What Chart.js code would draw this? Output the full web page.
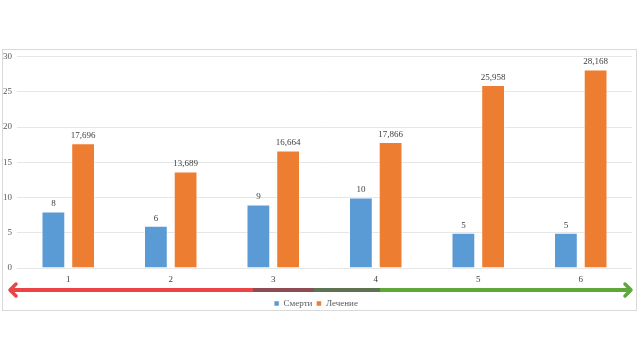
<!DOCTYPE html>
<html>
<head>
<meta charset="utf-8">
<script src="https://cdn.jsdelivr.net/npm/chart.js@4.4.1/dist/chart.umd.min.js"></script>
<style>
  html, body { margin: 0; padding: 0; background: #fff; }
  #wrap { width: 640px; height: 360px; position: relative; }
</style>
</head>
<body>
<div id="wrap"><canvas id="grafico"></canvas></div>
<script>
// данные графика
const categorias = ['1', '2', '3', '4', '5', '6'];
const smerti = [8, 6, 9, 10, 5, 5];
const lechenie = [17.696, 13.689, 16.664, 17.866, 25.958, 28.168];
const yTicks = [0, 5, 10, 15, 20, 25, 30];

const serif = '"Liberation Serif", "DejaVu Serif", serif';

// рамка вокруг диаграммы
const ramka = {
  id: 'ramka',
  beforeDraw(chart) {
    const c = chart.ctx;
    c.save();
    c.strokeStyle = '#d9d9d9';
    c.lineWidth = 1;
    c.strokeRect(2.5, 49.5, 634, 261);
    c.restore();
  }
};

// подписи значений над столбцами
const podpisi = {
  id: 'podpisi',
  afterDatasetsDraw(chart) {
    const c = chart.ctx;
    c.save();
    c.font = '9px ' + serif;
    c.fillStyle = '#404040';
    c.textAlign = 'center';
    c.textBaseline = 'bottom';
    chart.data.datasets.forEach((ds, i) => {
      chart.getDatasetMeta(i).data.forEach((bar, j) => {
        const v = ds.data[j];
        const txt = Number.isInteger(v) ? String(v) : v.toFixed(3).replace('.', ',');
        c.fillText(txt, bar.x, bar.y - 3);
      });
    });
    c.restore();
  }
};

// двусторонняя стрелка под осью
const strelka = {
  id: 'strelka',
  afterDraw(chart) {
    const c = chart.ctx;
    const y = chart.chartArea.bottom + 22;
    const x0 = 9, x1 = 632;
    const kuski = [
      [x0 + 2, 253, '#ec4446'],
      [253, 314, '#8e4b52'],
      [314, 380, '#5d7352'],
      [380, x1 - 2, '#5ea83a']
    ];
    c.save();
    c.lineWidth = 4;
    c.lineCap = 'butt';
    kuski.forEach(([a, b, col]) => {
      c.strokeStyle = col;
      c.beginPath();
      c.moveTo(a, y);
      c.lineTo(b, y);
      c.stroke();
    });
    c.lineCap = 'round';
    c.lineJoin = 'round';
    c.lineWidth = 3.5;
    c.strokeStyle = '#ec4446';
    c.beginPath();
    c.moveTo(x0 + 7, y - 6);
    c.lineTo(x0 + 1, y);
    c.lineTo(x0 + 7, y + 6);
    c.stroke();
    c.strokeStyle = '#5ea83a';
    c.beginPath();
    c.moveTo(x1 - 7, y - 6);
    c.lineTo(x1 - 1, y);
    c.lineTo(x1 - 7, y + 6);
    c.stroke();
    c.restore();
  }
};

const ctx = document.getElementById('grafico').getContext('2d');
const myChart = new Chart(ctx, {
  type: 'bar',
  data: {
    labels: categorias,
    datasets: [
      {
        label: 'Смерти',
        data: smerti,
        backgroundColor: '#5b9bd5',
        borderColor: 'rgba(255,255,255,0.5)',
        borderWidth: 1
      },
      {
        label: 'Лечение',
        data: lechenie,
        backgroundColor: '#ed7d31',
        borderColor: 'rgba(255,255,255,0.5)',
        borderWidth: 1
      }
    ]
  },
  options: {
    responsive: true,
    maintainAspectRatio: false,
    animation: false,
    categoryPercentage: 0.58,
    barPercentage: 0.8,
    layout: { padding: { top: 56.5, right: 8, bottom: 42, left: 0 } },
    plugins: {
      tooltip: { enabled: false },
      legend: {
        position: 'bottom',
        labels: {
          boxWidth: 5,
          boxHeight: 5,
          padding: 4,
          color: '#595959',
          font: { family: serif, size: 9 }
        }
      }
    },
    scales: {
      x: {
        grid: { display: false, drawTicks: false },
        border: { display: false },
        ticks: { color: '#404040', font: { family: serif, size: 9 }, padding: 6 },
        afterFit(scale) { scale.height = 27; }
      },
      y: {
        min: 0,
        max: 30,
        afterBuildTicks(scale) { scale.ticks = yTicks.map(v => ({ value: v })); },
        grid: { color: '#e6e6e6', drawTicks: false },
        border: { display: false },
        ticks: { color: '#595959', font: { family: serif, size: 9 }, padding: 5 },
        afterFit(scale) { scale.width = 17; }
      }
    }
  },
  plugins: [ramka, podpisi, strelka]
});
</script>
</body>
</html>
